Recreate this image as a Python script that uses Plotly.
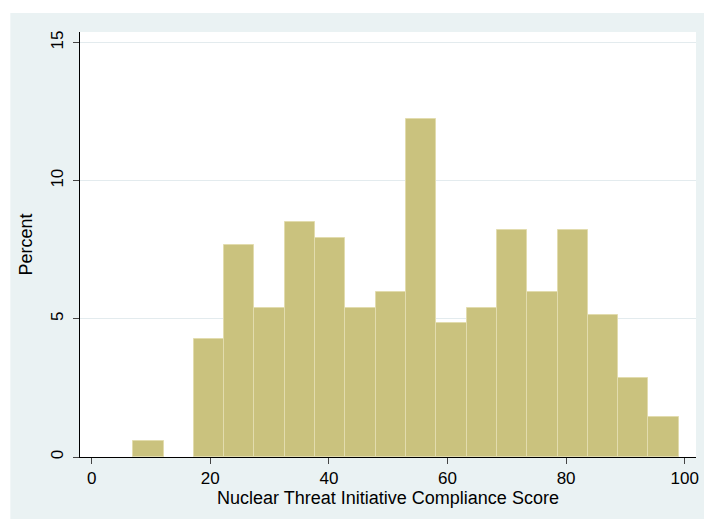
import plotly.graph_objects as go

# Histogram data
bin_start = 7.0
bin_width = 92.0 / 18
percent = [0.58, 0.0, 4.27, 7.66, 5.40, 8.52, 7.94, 5.40, 5.97, 12.22,
           4.84, 5.40, 8.23, 5.97, 8.23, 5.13, 2.86, 1.43]
x_ticks = [0, 20, 40, 60, 80, 100]
y_ticks = [0, 5, 10, 15]
x_title = "Nuclear Threat Initiative Compliance Score"
y_title = "Percent"

centers = [bin_start + bin_width * (i + 0.5) for i in range(len(percent))]
bar_y = [v if v > 0 else None for v in percent]

W, H = 704, 519
ML, MR, MT, MB = 80, 5, 32, 62
PW, PH = W - ML - MR, H - MT - MB

def px_x(p):
    return (p - ML) / PW

def px_y(p):
    return (H - MB - p) / PH

BG = "#EAF2F3"
FONT = "Liberation Sans, Arial, sans-serif"

fig = go.Figure()
fig.add_trace(go.Bar(
    x=centers, y=bar_y, width=[bin_width] * len(percent),
    marker=dict(color="#CAC27E", line=dict(color="#E2DCAE", width=1)),
    showlegend=False, hoverinfo="x+y",
))

fig.update_layout(
    width=W, height=H,
    margin=dict(l=ML, r=MR, t=MT, b=MB, pad=0),
    paper_bgcolor=BG, plot_bgcolor="white",
    bargap=0,
    font=dict(family=FONT, size=17, color="#000000"),
    xaxis=dict(
        range=[-1.97, 101.9], tickvals=x_ticks, ticks="outside", ticklen=6,
        tickcolor="#444444", tickwidth=1, showgrid=False, zeroline=False,
        showline=True, linecolor="#000000", linewidth=1,
        title=dict(text=x_title, font=dict(size=18), standoff=2),
        tickfont=dict(size=17),
    ),
    yaxis=dict(
        range=[0, 15.38], tickvals=y_ticks, ticks="outside", ticklen=6,
        tickcolor="#444444", tickwidth=1, showgrid=True, gridcolor="#E3EBEE",
        gridwidth=1, zeroline=False, tickangle=-90, ticklabelstandoff=3,
        showline=True, linecolor="#000000", linewidth=1,
        title=dict(text=y_title, font=dict(size=18), standoff=10),
        tickfont=dict(size=17),
    ),
    shapes=[
        dict(type="rect", xref="paper", yref="paper", layer="above",
             x0=px_x(0), x1=px_x(W + 5), y0=px_y(13), y1=px_y(-5),
             fillcolor="white", line=dict(width=0)),
        dict(type="rect", xref="paper", yref="paper", layer="above",
             x0=px_x(-5), x1=px_x(10), y0=px_y(H + 5), y1=px_y(-5),
             fillcolor="white", line=dict(width=0)),
    ],
)

fig.write_html(
    "out.html",
    config={"displayModeBar": False},
    post_script="document.body.style.margin='0px';document.body.style.overflow='hidden';",
)
